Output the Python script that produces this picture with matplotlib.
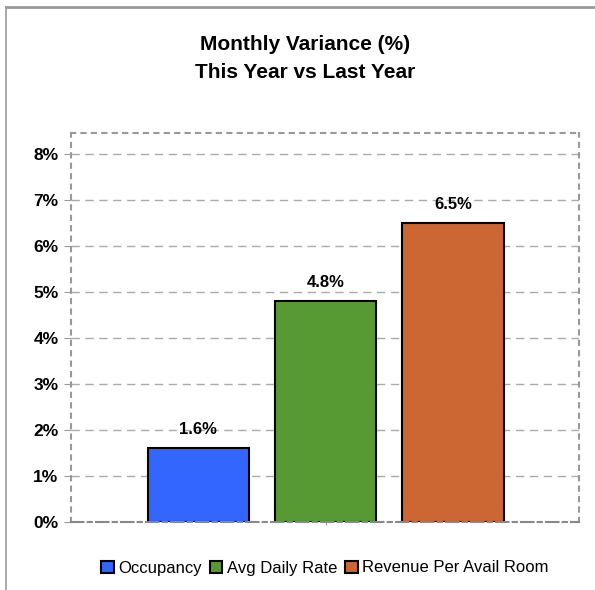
import matplotlib
matplotlib.use("Agg")
import matplotlib.pyplot as plt
from matplotlib.lines import Line2D
from matplotlib.patches import Patch

plt.rcParams['font.family'] = ['Liberation Sans', 'DejaVu Sans']

series = ["Occupancy", "Avg Daily Rate", "Revenue Per Avail Room"]
values = [1.6, 4.8, 6.5]
colors = ["#3366ff", "#579a33", "#cc6633"]
yticks = [0, 1, 2, 3, 4, 5, 6, 7, 8]

fig = plt.figure(figsize=(5.95, 5.9), dpi=100)
ax = fig.add_axes([71 / 595, 1 - 522 / 590, 508 / 595, 389 / 590])

# outer frame (top and left only)
fig.add_artist(Line2D([6 / 595, 1], [1 - 6.5 / 590] * 2, color="#999999", lw=2, transform=fig.transFigure))
fig.add_artist(Line2D([6 / 595] * 2, [0, 1 - 6.5 / 590], color="#999999", lw=1.2, transform=fig.transFigure))

xs = [-1, 0, 1]
bars = ax.bar(xs, values, width=0.795, color=colors, edgecolor="black", linewidth=1.5, zorder=3)
for x, v in zip(xs, values):
    ax.text(x, v + 0.25, f"{v:.1f}%", ha="center", va="bottom", fontsize=12, fontweight="bold")

ax.set_xlim(-2, 1.99)
ax.set_ylim(0, 8.46)
ax.set_yticks(yticks)
ax.set_yticklabels([f"{t}%" for t in yticks], fontsize=12.5, fontweight="bold")
ax.set_xticks([0])
ax.set_xticklabels([""])
ax.tick_params(axis="x", length=2, color="#999999")
ax.tick_params(axis="y", length=5, color="#999999", pad=4)

for t in yticks[1:]:
    ax.axhline(t, color="#aaaaaa", lw=1, ls=(0, (6, 4)), zorder=1)

for side in ["left", "right", "top"]:
    ax.spines[side].set_color("#999999")
    ax.spines[side].set_linestyle((0, (2, 3)))
    ax.spines[side].set_linewidth(1.5)
ax.spines["bottom"].set_color("#888888")
ax.spines["bottom"].set_linestyle((0, (6, 2, 2, 2)))
ax.spines["bottom"].set_linewidth(1.5)
ax.spines["bottom"].set_zorder(4)

fig.text(0.513, 1 - 45 / 590, "Monthly Variance (%)", ha="center", va="center", fontsize=15, fontweight="bold")
fig.text(0.513, 1 - 73 / 590, "This Year vs Last Year", ha="center", va="center", fontsize=15, fontweight="bold")

handles = [Patch(facecolor=c, edgecolor="black", linewidth=1.5) for c in colors]
fig.legend(handles, series, loc="center", bbox_to_anchor=(0.546, 1 - 568 / 590), ncol=3, frameon=False,
           fontsize=12, handlelength=0.75, handleheight=0.75, handletextpad=0.25, columnspacing=0.5)

fig.savefig("out.png", dpi=100)
